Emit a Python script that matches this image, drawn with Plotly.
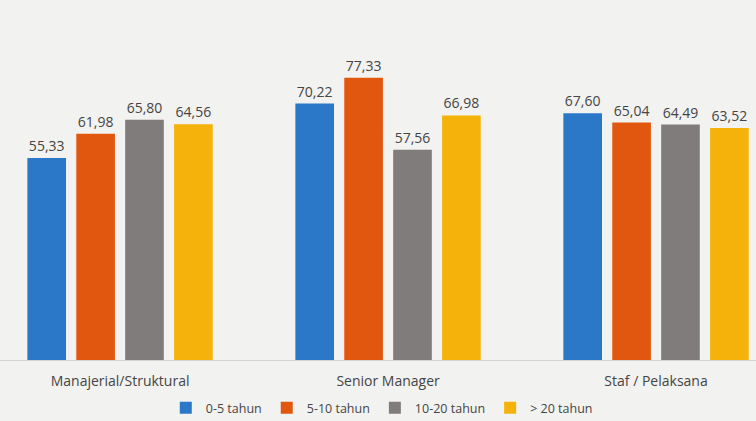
import plotly.graph_objects as go

categories = ["Manajerial/Struktural", "Senior Manager", "Staf / Pelaksana"]
series_names = ["0-5 tahun", "5-10 tahun", "10-20 tahun", "> 20 tahun"]
v_0_5 = [55.33, 70.22, 67.60]
v_5_10 = [61.98, 77.33, 65.04]
v_10_20 = [65.80, 57.56, 64.49]
v_20_plus = [64.56, 66.98, 63.52]
colors = ["#2b78c8", "#e2570f", "#807c7c", "#f5b20a"]

series_values = [v_0_5, v_5_10, v_10_20, v_20_plus]
xpos = list(range(len(categories)))

fig = go.Figure()
for name, vals, col in zip(series_names, series_values, colors):
    fig.add_trace(go.Bar(
        x=xpos, y=vals, name=name, marker=dict(color=col, line=dict(width=0)),
        text=vals, texttemplate="%{y:.2f}", textposition="outside",
        textfont=dict(family="Open Sans", size=14, color="#454545"),
        cliponaxis=False,
    ))

fig.update_layout(
    width=756, height=421,
    barmode="group", bargap=0.27, bargroupgap=0.21,
    separators=",.",
    paper_bgcolor="#f2f2f0", plot_bgcolor="#f2f2f0",
    margin=dict(l=0, r=0, t=50, b=61, autoexpand=False),
    font=dict(family="Open Sans", color="#454545"),
    xaxis=dict(
        tickmode="array", tickvals=xpos, ticktext=categories,
        range=[-0.448, 2.373], showgrid=False, zeroline=False,
        showline=True, linecolor="#d4d4d2", linewidth=1,
        ticks="", ticklabelstandoff=8,
        tickfont=dict(size=14, color="#454545"),
    ),
    yaxis=dict(range=[0, 84.9], visible=False, showgrid=False, zeroline=False),
    legend=dict(
        orientation="h", x=0.505, xanchor="center", y=-0.155, yanchor="middle",
        font=dict(size=12.5, color="#454545"), bgcolor="rgba(0,0,0,0)",
        itemwidth=30, traceorder="normal",
    ),
    showlegend=True,
)

fig.write_html(
    "out.html",
    config={"displayModeBar": False},
    post_script="document.body.style.margin='0';document.body.style.background='#f2f2f0';",
)
